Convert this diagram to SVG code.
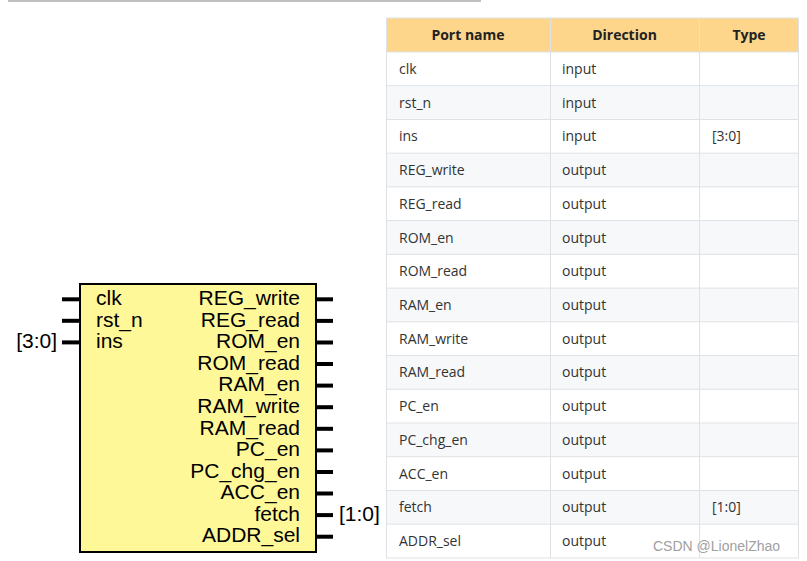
<svg xmlns="http://www.w3.org/2000/svg" width="807" height="561" viewBox="0 0 807 561">
<style>
.pin{stroke:#000;stroke-width:4;fill:none}
.lbl{font-family:"Liberation Sans",Arial,sans-serif;font-size:21px;fill:#000}
.r{text-anchor:end}
.cell{font-family:"Open Sans","Noto Sans",sans-serif;font-size:14px;fill:#333}
.hdr{font-family:"Open Sans","Noto Sans",sans-serif;font-size:14px;font-weight:bold;fill:#222;text-anchor:middle}
.grid{stroke:#dfe2e5;stroke-width:1;fill:none}
.alt{fill:#f6f8fa}
</style>
<rect width="807" height="561" fill="#fff"/>
<rect x="8" y="0" width="473" height="2" fill="#c0c0c0"/>

<g id="block">
  <rect x="80" y="284" width="236" height="268" fill="#fff899" stroke="#000" stroke-width="2"/>
  <g id="pins-left">
    <line class="pin" x1="62" y1="299.3" x2="79" y2="299.3"/>
    <line class="pin" x1="62" y1="320.8" x2="79" y2="320.8"/>
    <line class="pin" x1="62" y1="342.4" x2="79" y2="342.4"/>
  </g>
  <g id="pins-right">
    <line class="pin" x1="317" y1="299.3" x2="333" y2="299.3"/>
    <line class="pin" x1="317" y1="320.9" x2="333" y2="320.9"/>
    <line class="pin" x1="317" y1="342.5" x2="333" y2="342.5"/>
    <line class="pin" x1="317" y1="364.0" x2="333" y2="364.0"/>
    <line class="pin" x1="317" y1="385.6" x2="333" y2="385.6"/>
    <line class="pin" x1="317" y1="407.2" x2="333" y2="407.2"/>
    <line class="pin" x1="317" y1="428.8" x2="333" y2="428.8"/>
    <line class="pin" x1="317" y1="450.4" x2="333" y2="450.4"/>
    <line class="pin" x1="317" y1="472.0" x2="333" y2="472.0"/>
    <line class="pin" x1="317" y1="493.5" x2="333" y2="493.5"/>
    <line class="pin" x1="317" y1="515.1" x2="333" y2="515.1"/>
    <line class="pin" x1="317" y1="536.7" x2="333" y2="536.7"/>
  </g>
  <text class="lbl" x="96" y="305">clk</text>
  <text class="lbl" x="96" y="326.6">rst_n</text>
  <text class="lbl" x="96" y="348.2">ins</text>
  <text class="lbl r" x="57" y="348.2">[3:0]</text>
  <text class="lbl r" x="300" y="305">REG_write</text>
  <text class="lbl r" x="300" y="326.6">REG_read</text>
  <text class="lbl r" x="300" y="348.2">ROM_en</text>
  <text class="lbl r" x="300" y="369.7">ROM_read</text>
  <text class="lbl r" x="300" y="391.3">RAM_en</text>
  <text class="lbl r" x="300" y="412.9">RAM_write</text>
  <text class="lbl r" x="300" y="434.5">RAM_read</text>
  <text class="lbl r" x="300" y="456.1">PC_en</text>
  <text class="lbl r" x="300" y="477.7">PC_chg_en</text>
  <text class="lbl r" x="300" y="499.2">ACC_en</text>
  <text class="lbl r" x="300" y="520.8">fetch</text>
  <text class="lbl r" x="300" y="542.4">ADDR_sel</text>
  <text class="lbl" x="339" y="520.8">[1:0]</text>
</g>

<g id="table">
  <rect x="386" y="18" width="412.5" height="34" fill="#fdd68b"/>
  <rect class="alt" x="386" y="85.7" width="412.5" height="33.7"/>
  <rect class="alt" x="386" y="153.2" width="412.5" height="33.7"/>
  <rect class="alt" x="386" y="220.6" width="412.5" height="33.7"/>
  <rect class="alt" x="386" y="288.1" width="412.5" height="33.7"/>
  <rect class="alt" x="386" y="355.5" width="412.5" height="33.7"/>
  <rect class="alt" x="386" y="423.0" width="412.5" height="33.7"/>
  <rect class="alt" x="386" y="490.5" width="412.5" height="33.7"/>
  <g class="grid">
    <rect x="386.5" y="18" width="412" height="540"/>
    <line x1="550.5" y1="18" x2="550.5" y2="558"/>
    <line x1="699.5" y1="18" x2="699.5" y2="558"/>
    <path d="M386 52H799M386 85.7H799M386 119.5H799M386 153.2H799M386 186.9H799M386 220.6H799M386 254.4H799M386 288.1H799M386 321.8H799M386 355.5H799M386 389.3H799M386 423H799M386 456.7H799M386 490.5H799M386 524.2H799"/>
  </g>
  <text class="hdr" x="468" y="40">Port name</text>
  <text class="hdr" x="624.5" y="40">Direction</text>
  <text class="hdr" x="749" y="40">Type</text>

  <text class="cell" x="399" y="74">clk</text>
  <text class="cell" x="399" y="107.6">rst_n</text>
  <text class="cell" x="399" y="141.3">ins</text>
  <text class="cell" x="399" y="175.1">REG_write</text>
  <text class="cell" x="399" y="208.8">REG_read</text>
  <text class="cell" x="399" y="242.5">ROM_en</text>
  <text class="cell" x="399" y="276.3">ROM_read</text>
  <text class="cell" x="399" y="310">RAM_en</text>
  <text class="cell" x="399" y="343.7">RAM_write</text>
  <text class="cell" x="399" y="377.4">RAM_read</text>
  <text class="cell" x="399" y="411.2">PC_en</text>
  <text class="cell" x="399" y="444.9">PC_chg_en</text>
  <text class="cell" x="399" y="478.6">ACC_en</text>
  <text class="cell" x="399" y="512.4">fetch</text>
  <text class="cell" x="399" y="546.1">ADDR_sel</text>

  <text class="cell" x="562" y="74">input</text>
  <text class="cell" x="562" y="107.6">input</text>
  <text class="cell" x="562" y="141.3">input</text>
  <text class="cell" x="562" y="175.1">output</text>
  <text class="cell" x="562" y="208.8">output</text>
  <text class="cell" x="562" y="242.5">output</text>
  <text class="cell" x="562" y="276.3">output</text>
  <text class="cell" x="562" y="310">output</text>
  <text class="cell" x="562" y="343.7">output</text>
  <text class="cell" x="562" y="377.4">output</text>
  <text class="cell" x="562" y="411.2">output</text>
  <text class="cell" x="562" y="444.9">output</text>
  <text class="cell" x="562" y="478.6">output</text>
  <text class="cell" x="562" y="512.4">output</text>
  <text class="cell" x="562" y="546.1">output</text>

  <text class="cell" x="712" y="141.3">[3:0]</text>
  <text class="cell" x="712" y="512.4">[1:0]</text>
</g>
<text x="653" y="551" font-family="'Liberation Sans',Arial,sans-serif" font-size="14" fill="#a0a0a0">CSDN @LionelZhao</text>
</svg>
